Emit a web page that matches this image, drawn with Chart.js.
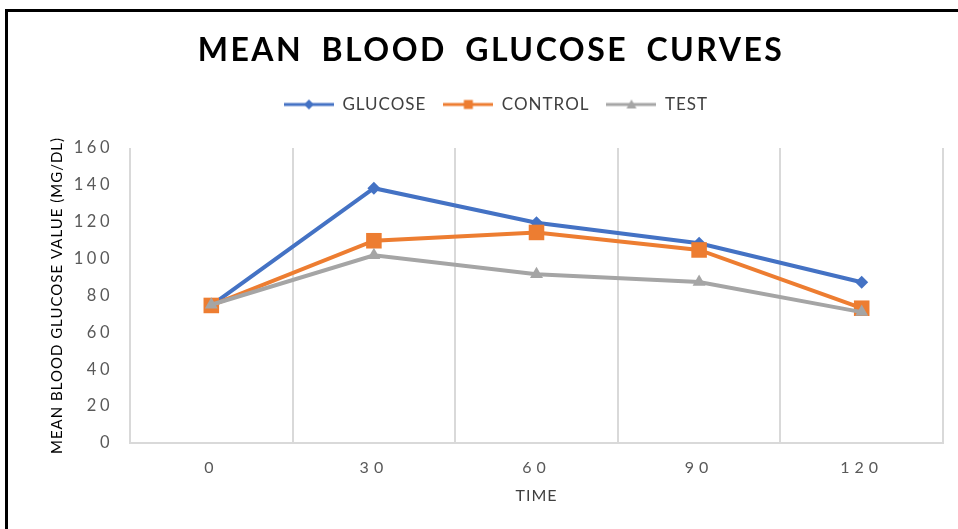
<!DOCTYPE html>
<html>
<head>
<meta charset="utf-8">
<script src="https://cdn.jsdelivr.net/npm/chart.js@4.4.1/dist/chart.umd.min.js"></script>
<style>
  html, body { margin: 0; padding: 0; background: #fff; overflow: hidden; }
  #wrap { position: relative; width: 958px; height: 529px; }
  #frame { position: absolute; left: 5px; top: 9px; width: 970px; height: 540px;
           border-left: 3px solid #000; border-top: 3px solid #000; pointer-events: none; }
  canvas { position: absolute; left: 0; top: 0; }
</style>
</head>
<body>
<div id="wrap">
  <canvas id="chartGlucose" width="958" height="529"></canvas>
  <div id="frame"></div>
</div>
<script>
// ── DATA ───────────────────────────────────────────────────────────────────────
const TITLE    = 'MEAN BLOOD GLUCOSE CURVES';
const times    = ['0', '30', '60', '90', '120'];
const glucose  = [74.6, 138.2, 119.5, 108.3, 87.2];
const control  = [74.6, 109.7, 114.2, 104.7, 73.1];
const test     = [75.0, 101.8, 91.5, 87.3, 71.0];
const yTicks   = { min: 0, max: 160, step: 20 };

const BLUE = '#4472C4', ORANGE = '#ED7D31', GREY = '#A5A5A5';
const FONT = 'Lato, "Open Sans", sans-serif';

// legend swatch: short line with the series marker in the middle
function legendIcon(color, style) {
  const c = document.createElement('canvas');
  c.width = 50; c.height = 16;
  const g = c.getContext('2d');
  g.strokeStyle = color; g.fillStyle = color; g.lineWidth = 3;
  g.beginPath(); g.moveTo(0, 8); g.lineTo(50, 8); g.stroke();
  g.beginPath();
  if (style === 'rectRot') { g.moveTo(25, 3); g.lineTo(30, 8); g.lineTo(25, 13); g.lineTo(20, 8); }
  else if (style === 'rect') { g.rect(20.5, 3.5, 9, 9); }
  else { g.moveTo(25, 3); g.lineTo(30, 12); g.lineTo(20, 12); }
  g.closePath(); g.fill();
  return c;
}

// letter spacing for title and tick labels (Chart.js has no option for it)
const spacing = { x: '5px', y: '3.5px' };
const spacedText = {
  id: 'spacedText',
  beforeDraw(chart) {
    chart.ctx.letterSpacing = '1px';
    Object.keys(spacing).forEach(id => {
      const s = chart.scales[id];
      if (s._spaced) return;
      const draw = s.drawLabels;
      s.drawLabels = function (area) {
        this.ctx.save();
        this.ctx.letterSpacing = spacing[id];
        draw.call(this, area);
        this.ctx.restore();
      };
      s._spaced = true;
    });
  },
  afterDraw(chart) {
    const ctx = chart.ctx;
    ctx.save();
    ctx.font = 'bold 32px ' + FONT;
    ctx.letterSpacing = '2.5px';
    ctx.wordSpacing = '8px';
    ctx.fillStyle = '#000';
    ctx.textAlign = 'center';
    ctx.textBaseline = 'middle';
    ctx.fillText(TITLE, 491, 51);
    ctx.restore();
  }
};

const series = [
  { label: 'GLUCOSE', data: glucose, color: BLUE,   style: 'rectRot',  radius: 6.5, order: 3 },
  { label: 'CONTROL', data: control, color: ORANGE, style: 'rect',     radius: 11,  order: 2 },
  { label: 'TEST',    data: test,    color: GREY,   style: 'triangle', radius: 7.5, order: 1 },
];

new Chart(document.getElementById('chartGlucose'), {
  type: 'line',
  data: {
    labels: times,
    datasets: series.map(s => ({
      label: s.label, data: s.data, order: s.order, xAxisID: 'x', yAxisID: 'y',
      borderColor: s.color, backgroundColor: s.color, borderWidth: 4,
      pointStyle: s.style, pointRadius: s.radius, pointBorderWidth: 0,
      pointBackgroundColor: s.color, tension: 0,
      legendIcon: legendIcon(s.color, s.style)
    }))
  },
  options: {
    responsive: false, animation: false,
    layout: { padding: { top: 79, left: 31, right: 15, bottom: 0 } },
    plugins: {
      tooltip: { enabled: false },
      legend: {
        position: 'top',
        labels: {
          usePointStyle: true, pointStyleWidth: 50, padding: 17,
          color: '#404040', font: { family: FONT, size: 17 },
          generateLabels: chart => chart.data.datasets.map((d, i) => ({
            text: d.label, pointStyle: d.legendIcon, fillStyle: d.borderColor,
            strokeStyle: d.borderColor, lineWidth: 0, fontColor: '#404040', datasetIndex: i, hidden: false
          }))
        }
      }
    },
    scales: {
      x: {
        offset: true,
        grid: { offset: true, color: '#D9D9D9', lineWidth: 2, drawTicks: false },
        border: { color: '#D9D9D9', width: 2 },
        ticks: { color: '#595959', padding: 15, font: { family: FONT, size: 16 } },
        title: { display: true, text: 'TIME', color: '#404040',
                 font: { family: FONT, size: 16 }, padding: { top: 0, bottom: 24 } },
        afterFit: s => { s.height = 86; }
      },
      gap: {
        type: 'category', position: 'top', display: true,
        grid: { display: false }, border: { display: false }, ticks: { display: false },
        afterFit: s => { s.height = 25; }
      },
      y: {
        min: yTicks.min, max: yTicks.max,
        grid: { display: false, drawTicks: false },
        border: { display: false },
        ticks: { stepSize: yTicks.step, color: '#595959', padding: 17, font: { family: FONT, size: 16.5 } },
        title: { display: true, text: 'MEAN BLOOD GLUCOSE VALUE (MG/DL)', color: '#000',
                 font: { family: FONT, size: 15 }, padding: { top: 17, bottom: 0 } },
        afterFit: s => { s.width = 99; }
      }
    }
  },
  plugins: [spacedText]
});
</script>
</body>
</html>
